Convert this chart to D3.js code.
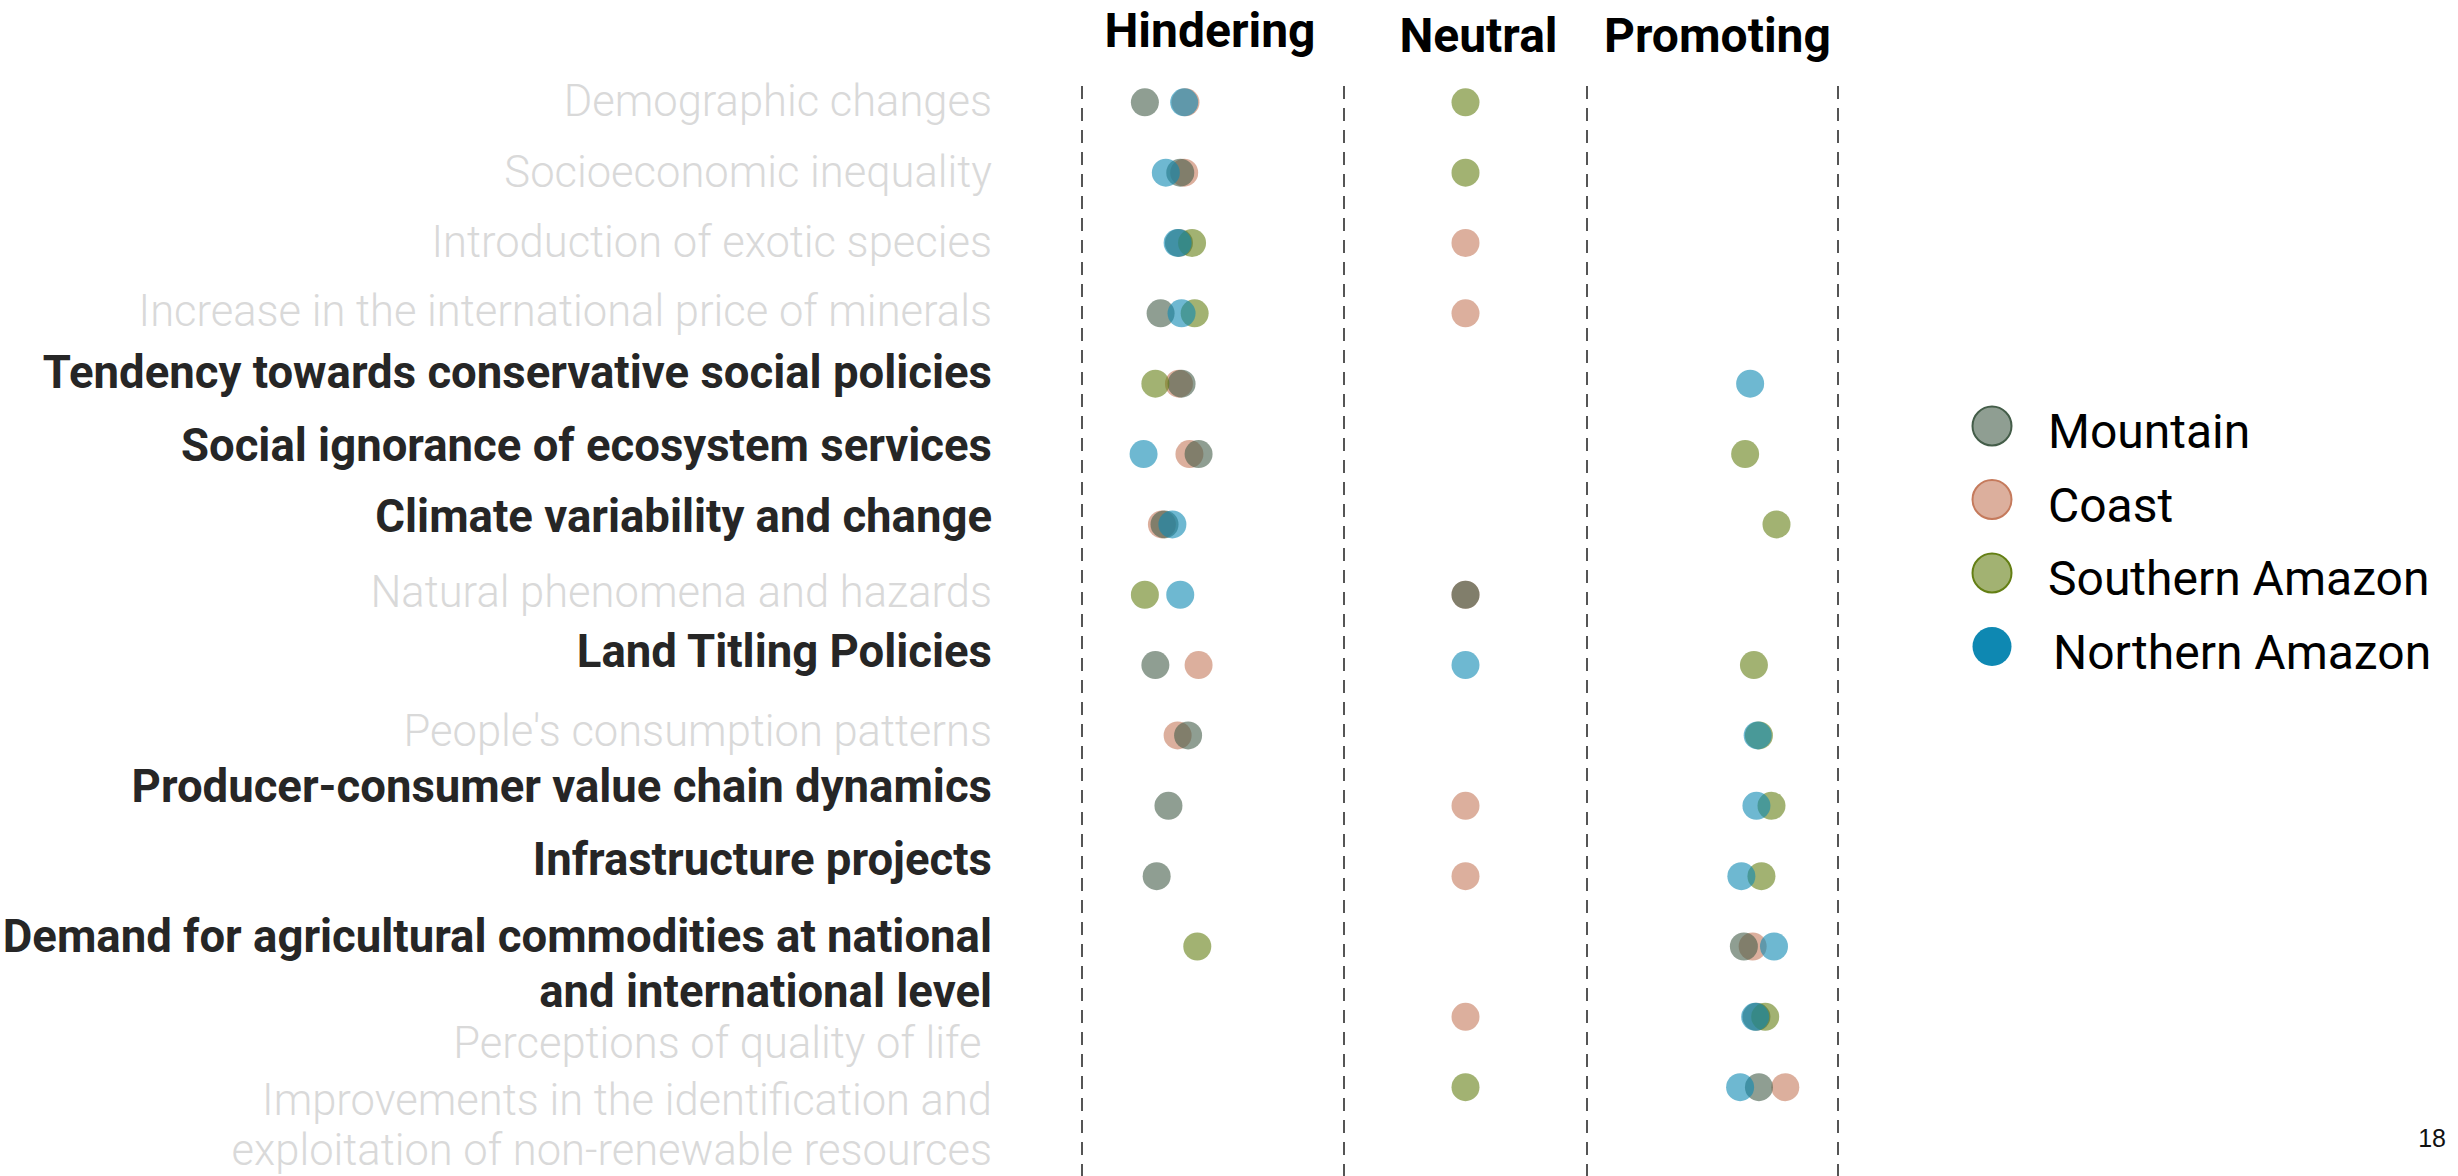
<!DOCTYPE html>
<html>
<head>
<meta charset="utf-8">
<script src="https://cdn.jsdelivr.net/npm/d3@7"></script>
<style>
  html, body { margin: 0; padding: 0; background: #fff; }
  svg { display: block; }
</style>
</head>
<body>
<svg id="chart" width="2458" height="1176"></svg>
<script>
// ---------------- DATA ----------------
const categories = [
  "Demographic changes",
  "Socioeconomic inequality",
  "Introduction of exotic species",
  "Increase in the international price of minerals",
  "Tendency towards conservative social policies",
  "Social ignorance of ecosystem services",
  "Climate variability and change",
  "Natural phenomena and hazards",
  "Land Titling Policies",
  "People's consumption patterns",
  "Producer-consumer value chain dynamics",
  "Infrastructure projects",
  "Demand for agricultural commodities at national\nand international level",
  "Perceptions of quality of life\u00a0",
  "Improvements in the identification and\nexploitation of non-renewable resources"
];
const highlighted = [
  "Tendency towards conservative social policies",
  "Social ignorance of ecosystem services",
  "Climate variability and change",
  "Land Titling Policies",
  "Producer-consumer value chain dynamics",
  "Infrastructure projects",
  "Demand for agricultural commodities at national\nand international level"
];
const seriesNames = ["Mountain", "Coast", "Southern Amazon", "Northern Amazon"];
// score: Hindering [-3,-1], Neutral (0), Promoting [1,3]
const mountain = [-2.52, -2.25, -2.26, -2.40, -2.24, -2.11, -2.37, 0, -2.44, -2.19, -2.34, -2.43, 2.25, 2.35, 2.37];
const coast    = [-2.21, -2.22, 0, 0, -2.26, -2.18, -2.39, 0, -2.11, -2.27, 0, 0, 2.32, 0, 2.58];
const southern = [0, 0, -2.16, -2.14, -2.44, 2.26, 2.51, -2.52, 2.33, 2.37, 2.47, 2.39, -2.12, 2.42, 0];
const northern = [-2.22, -2.36, -2.27, -2.24, 2.30, -2.53, -2.31, -2.25, 0, 2.36, 2.35, 2.23, 2.49, 2.34, 2.22];
const zoneNames = ["Hindering", "Neutral", "Promoting"];
const zoneBounds = [-3, -1, 1, 3];
const pageNumber = "18";

// ---------------- STYLE / LAYOUT ----------------
const colors = { "Mountain": "#445D49", "Coast": "#C57A5C", "Southern Amazon": "#647F14", "Northern Amazon": "#0E88B2" };
const drawOrder = ["Coast", "Mountain", "Southern Amazon", "Northern Amazon"];
const labelShift = [14, 14, 14, 13, 4, 7, 8, 12, 2, 11, -4, -1, 5, 41, 28];
const headerShift = [{dx: -3, y: 47}, {dx: 13, y: 52}, {dx: 5, y: 52}];

const seriesValues = { "Mountain": mountain, "Coast": coast, "Southern Amazon": southern, "Northern Amazon": northern };

const svg = d3.select("#chart");

const x = d3.scaleLinear().domain(zoneBounds).range([1082, 1344, 1587, 1838]);
const y = d3.scalePoint().domain(categories).range([102.3, 1087.2]);

// dashed zone boundaries
svg.append("g").selectAll("line").data(zoneBounds).join("line")
  .attr("x1", d => x(d)).attr("x2", d => x(d))
  .attr("y1", 86).attr("y2", 1176)
  .attr("stroke", "#555").attr("stroke-width", 2)
  .attr("stroke-dasharray", "13,9");

// zone headers
svg.append("g").selectAll("text").data(zoneNames).join("text")
  .attr("x", (d, i) => (x(zoneBounds[i]) + x(zoneBounds[i + 1])) / 2 + headerShift[i].dx)
  .attr("y", (d, i) => headerShift[i].y)
  .attr("text-anchor", "middle")
  .style("font-family", "Roboto, sans-serif")
  .style("font-weight", 700)
  .style("font-size", "48px")
  .style("fill", "#000")
  .text(d => d);

// category labels
const labels = svg.append("g").selectAll("text").data(categories).join("text")
  .attr("text-anchor", "end")
  .attr("y", (d, i) => y(d) + labelShift[i])
  .style("font-family", "Roboto, sans-serif")
  .style("font-weight", d => highlighted.includes(d) ? 700 : 300)
  .style("font-size", d => highlighted.includes(d) ? "45.5px" : "43.5px")
  .style("fill", d => highlighted.includes(d) ? "#262626" : "#d9d9d9");
labels.each(function(d) {
  const lines = d.split("\n");
  const lh = highlighted.includes(d) ? 55 : 50;
  d3.select(this).selectAll("tspan").data(lines).join("tspan")
    .attr("x", 992)
    .attr("dy", (l, j) => j === 0 ? 0 : lh)
    .text(l => l);
});

// dots
const points = [];
drawOrder.forEach(s => {
  seriesValues[s].forEach((v, i) => points.push({ series: s, cat: categories[i], value: v }));
});
svg.append("g").selectAll("circle").data(points).join("circle")
  .attr("cx", d => x(d.value))
  .attr("cy", d => y(d.cat))
  .attr("r", 14)
  .attr("fill", d => colors[d.series])
  .attr("fill-opacity", 0.6);

// legend
const legend = svg.append("g").selectAll("g").data(seriesNames).join("g")
  .attr("transform", (d, i) => `translate(1992, ${426 + i * 73.5})`);
legend.append("circle")
  .attr("r", 19.5)
  .attr("fill", d => colors[d])
  .attr("fill-opacity", d => d === "Northern Amazon" ? 1 : 0.6)
  .attr("stroke", d => d === "Northern Amazon" ? "none" : colors[d])
  .attr("stroke-width", 2);
legend.append("text")
  .attr("x", d => d === "Northern Amazon" ? 61 : 56)
  .attr("y", 22)
  .style("font-family", "Roboto, sans-serif")
  .style("font-size", "48px")
  .style("fill", "#000")
  .text(d => d);

// page number
svg.append("text")
  .attr("x", 2446).attr("y", 1147)
  .attr("text-anchor", "end")
  .style("font-family", "'Liberation Sans', sans-serif")
  .style("font-size", "25px")
  .style("fill", "#111")
  .text(pageNumber);
</script>
</body>
</html>
